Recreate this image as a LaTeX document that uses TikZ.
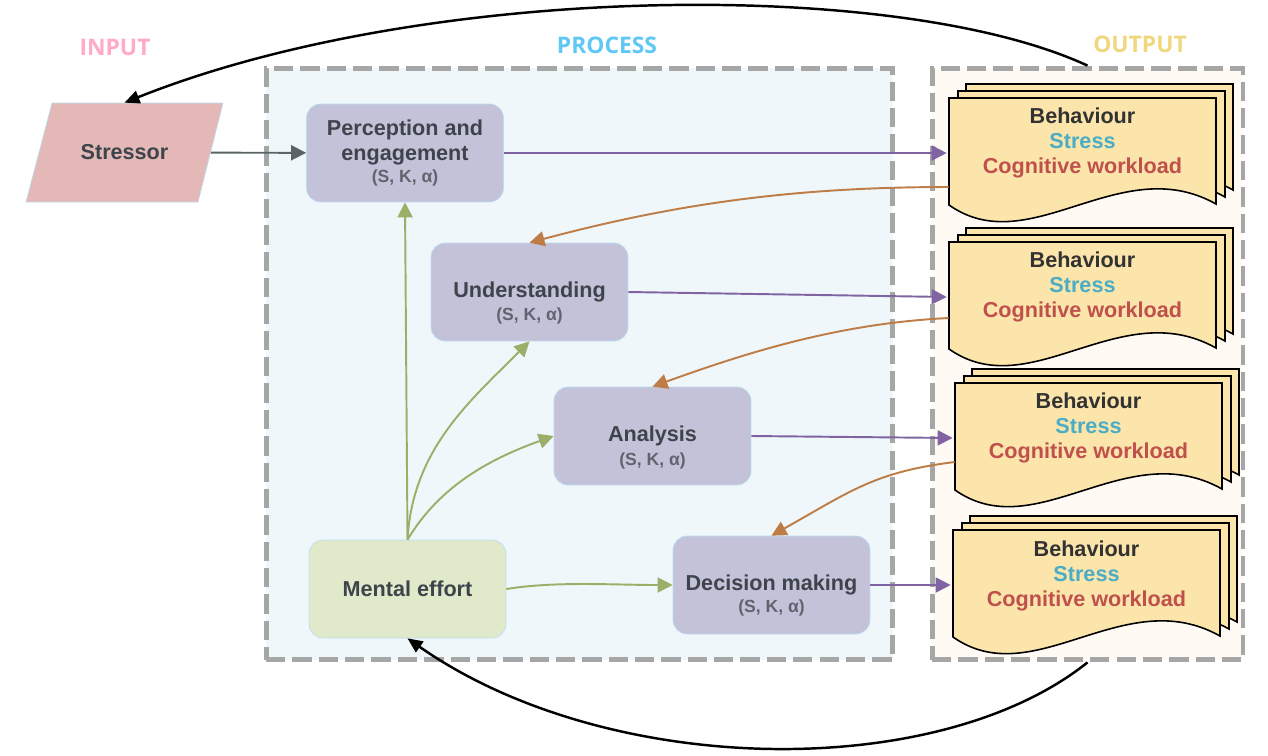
\documentclass[tikz,border=0pt]{standalone}
\usepackage{fontspec}
\setmainfont{Liberation Sans}
\newfontfamily\headfont{Open Sans}
\usetikzlibrary{shapes.geometric,arrows.meta,positioning,calc}
\definecolor{dashgray}{RGB}{166,166,166}
\definecolor{procfill}{RGB}{239,247,251}
\definecolor{outfill}{RGB}{255,250,243}
\definecolor{stagefill}{RGB}{196,194,217}
\definecolor{effortfill}{RGB}{224,234,203}
\definecolor{edgeblue}{RGB}{185,222,240}
\definecolor{stressorfill}{RGB}{228,184,182}
\definecolor{titletext}{RGB}{62,68,75}
\definecolor{paramtext}{RGB}{95,100,110}
\definecolor{docfill}{RGB}{251,229,171}
\definecolor{behavcol}{RGB}{50,50,50}
\definecolor{stresscol}{RGB}{75,172,198}
\definecolor{workcol}{RGB}{192,80,77}
\definecolor{purplearr}{RGB}{128,100,162}
\definecolor{orangearr}{RGB}{190,125,70}
\definecolor{greenarr}{RGB}{155,175,105}
\definecolor{grayarr}{RGB}{90,100,100}
\definecolor{inputcol}{RGB}{255,170,200}
\definecolor{processcol}{RGB}{95,200,245}
\definecolor{outputcol}{RGB}{240,215,125}
\newcommand{\skal}{(S, K, α)}

\begin{document}
\begin{tikzpicture}[
    x=0.02cm, y=-0.02cm,
    font=\bfseries\fontsize{12.3}{14.4}\selectfont,
    stage/.style={rectangle, rounded corners=8pt, draw=edgeblue, fill=stagefill,
                 minimum width=3.94cm, minimum height=1.96cm, align=center, text=titletext},
    effort/.style={stage, fill=effortfill},
    params/.style={font=\bfseries\fontsize{10}{12}\selectfont, text=paramtext},
    groupbox/.style={rectangle, draw=dashgray, line width=2.8pt, dash pattern=on 11pt off 4pt,
                 minimum height=11.84cm},
    heading/.style={font=\headfont\bfseries\fontsize{13}{15}\selectfont},
    outtext/.style={minimum width=5.34cm, align=center, inner sep=0pt, text=behavcol},
    docpage/.style={draw=black, line width=0.9pt, fill=docfill},
    docstack/.pic={
        \foreach \dx/\dy in {17/-14, 9/-7, 0/0}
            \draw[docpage, shift={(\dx,\dy)}] (0,0) -- (267,0) -- (267,106)
                .. controls (171,52) and (81,164) .. (0,107) -- cycle;
    },
    arr/.style={-{Triangle[length=3mm, width=3mm]}, line width=1.1pt},
    loop/.style={-{Triangle[length=3mm, width=2.6mm]}, line width=1.4pt, black}
]
\useasboundingbox (0,0) rectangle (1268,755);

% groups
\node[groupbox, fill=procfill, minimum width=12.54cm] (proc) at (579.5,364) {};
\node[groupbox, fill=outfill, minimum width=6.22cm] (outbox) at (1087.5,364) {};
\node[heading, text=inputcol] (inlabel) at (115,47) {INPUT};
\node[heading, text=processcol] (proclabel) at (607,45) {PROCESS};
\node[heading, text=outputcol] (outlabel) at (1140,44) {OUTPUT};

% input
\draw[edgeblue, fill=stressorfill] (26,202) -- (52,103) -- (223,103) -- (198,202) -- cycle;
\node[text=titletext, minimum width=3.44cm, minimum height=1.98cm] (str) at (124.5,152.5) {Stressor};

% process stages
\node[stage] (per) at (405,153) {Perception and\\engagement\\[-1.7pt]{\fontsize{10}{12}\selectfont\color{paramtext}\skal}};
\node[stage] (und) at (529.5,292) {Understanding};
\node[stage] (ana) at (652.5,436) {Analysis};
\node[stage] (dec) at (771.5,585) {Decision making};
\node[effort] (me) at (407.5,589) {Mental effort};
\node[params] (und-p) at ($(und.center)+(0,24)$) {\skal};
\node[params] (ana-p) at ($(ana.center)+(0,25)$) {\skal};
\node[params] (dec-p) at ($(dec.center)+(0,23)$) {\skal};

% outputs
\pic at (949,98) {docstack};
\pic at (949,242) {docstack};
\pic at (955,383) {docstack};
\pic at (953,530) {docstack};
\node[outtext] (out1) at (1082.5,143) {Behaviour\\\textcolor{stresscol}{Stress}\\\textcolor{workcol}{Cognitive workload}};
\node[outtext] (out2) at (1082.5,287) {Behaviour\\\textcolor{stresscol}{Stress}\\\textcolor{workcol}{Cognitive workload}};
\node[outtext] (out3) at (1088.5,428) {Behaviour\\\textcolor{stresscol}{Stress}\\\textcolor{workcol}{Cognitive workload}};
\node[outtext] (out4) at (1086.5,576) {Behaviour\\\textcolor{stresscol}{Stress}\\\textcolor{workcol}{Cognitive workload}};

% arrows
\draw[arr, grayarr] (str) -- (per);
\draw[arr, purplearr] (per.east) -- ($(out1.west)+(-2,10)$);
\draw[arr, purplearr] (und.east) -- ($(out2.west)+(-2,10)$);
\draw[arr, purplearr] (ana.east) -- ($(out3.west)+(-2,10)$);
\draw[arr, purplearr] (dec.east) -- ($(out4.west)+(-2,9)$);
\draw[arr, orangearr] ($(out1.west)+(0,44)$) .. controls ($(out1.west)+(-150,44)$) and ($(und.north)+(150,-40)$) .. (und.north);
\draw[arr, orangearr] ($(out2.west)+(0,31)$) .. controls ($(out2.west)+(-100,36)$) and ($(ana.north)+(110,-40)$) .. (ana.north);
\draw[arr, orangearr] ($(out3.west)+(0,34)$) .. controls ($(out3.west)+(-80,44)$) and ($(dec.north)+(80,-45)$) .. (dec.north);
\draw[arr, greenarr] (me.north) -- (per.south);
\draw[arr, greenarr] (me.north) .. controls ($(me.north)+(5,-90)$) and ($(und.south)+(-60,60)$) .. (und.south);
\draw[arr, greenarr] (me.north) .. controls ($(me.north)+(30,-50)$) and ($(ana.west)+(-70,25)$) .. (ana.west);
\draw[arr, greenarr] (me.east) .. controls ($(me.east)+(50,-8)$) and ($(dec.west)+(-60,0)$) .. (dec.west);
\draw[loop] (outbox.north) .. controls ($(outbox.north)+(-190,-88)$) and ($(str.north)+(300,-120)$) .. (str.north);
\draw[loop] (outbox.south) .. controls ($(outbox.south)+(-150,120)$) and ($(me.south)+(200,140)$) .. (me.south);
\end{tikzpicture}
\end{document}
